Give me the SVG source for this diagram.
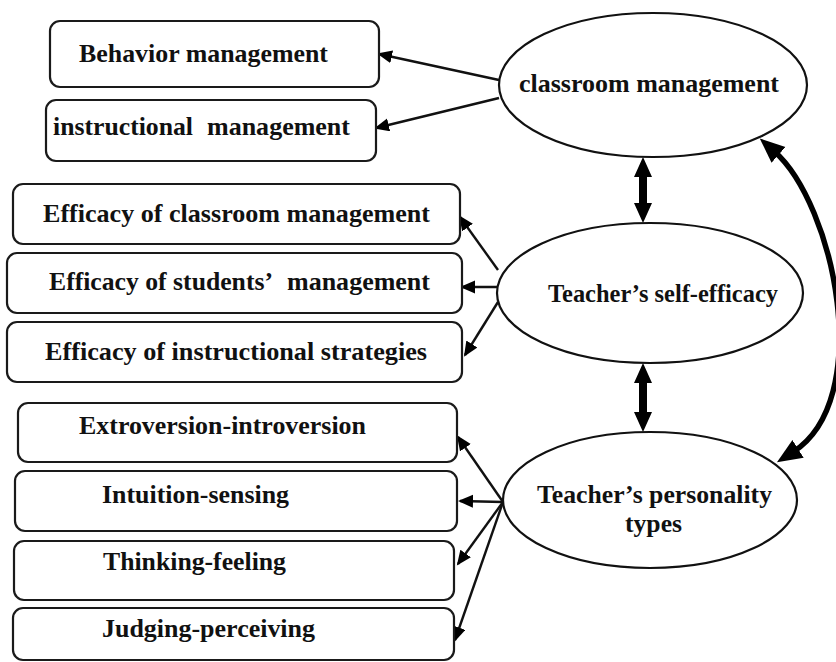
<svg xmlns="http://www.w3.org/2000/svg" width="836" height="662" viewBox="0 0 836 662">
<style>
.box{fill:#fff;stroke:#1a1a1a;stroke-width:2.2}
.ell{fill:#fff;stroke:#111;stroke-width:2.2}
.t{font-family:"Liberation Serif","Times New Roman",serif;font-weight:bold;fill:#111}
.ln{fill:none;stroke:#111;stroke-width:2.4}
.thick{fill:none;stroke:#000;stroke-width:5.5}
.dbl{fill:#000;stroke:none}
</style>
<defs>
<marker id="ah" markerUnits="userSpaceOnUse" markerWidth="16" markerHeight="14" refX="13" refY="6.5" orient="auto">
<path d="M0,0 L15,6.5 L0,13 z" fill="#000"/>
</marker>
<marker id="big" markerUnits="userSpaceOnUse" markerWidth="26" markerHeight="22" refX="6" refY="10.5" orient="auto-start-reverse">
<path d="M0,0 L25,10.5 L0,21 z" fill="#000"/>
</marker>
</defs>
<rect width="836" height="662" fill="#fff"/>

<g id="connectors">
<line class="ln" x1="499" y1="80" x2="379" y2="54" marker-end="url(#ah)"/>
<line class="ln" x1="499" y1="98" x2="376" y2="128" marker-end="url(#ah)"/>
<line class="ln" x1="498" y1="270" x2="460" y2="217" marker-end="url(#ah)"/>
<line class="ln" x1="497" y1="287" x2="462" y2="287" marker-end="url(#ah)"/>
<line class="ln" x1="498" y1="302" x2="465" y2="355" marker-end="url(#ah)"/>
<line class="ln" x1="503" y1="502" x2="458" y2="437" marker-end="url(#ah)"/>
<line class="ln" x1="503" y1="502" x2="460" y2="501" marker-end="url(#ah)"/>
<line class="ln" x1="503" y1="502" x2="458" y2="564" marker-end="url(#ah)"/>
<line class="ln" x1="503" y1="502" x2="455" y2="640" marker-end="url(#ah)"/>
<path class="dbl" d="M643,157 L652,177 L647,177 L647,203 L652,203 L643,223 L634,203 L639,203 L639,177 L634,177 Z"/>
<path class="dbl" d="M643,363 L652,383 L647,383 L647,412 L652,412 L643,432 L634,412 L639,412 L639,383 L634,383 Z"/>
<path class="thick" d="M774,151 C835,205 875,400 793,452" marker-start="url(#big)" marker-end="url(#big)"/>
</g>

<g id="n-behavior">
<rect class="box" x="50" y="21" width="329" height="66" rx="10"/>
<text class="t" x="79" y="62" font-size="25.5" textLength="249" lengthAdjust="spacingAndGlyphs">Behavior management</text>
</g>
<g id="n-instructional">
<rect class="box" x="46" y="100" width="330" height="61" rx="10"/>
<text class="t" y="135" font-size="25.5"><tspan x="53" textLength="140" lengthAdjust="spacingAndGlyphs">instructional</tspan><tspan x="207" textLength="143" lengthAdjust="spacingAndGlyphs">management</tspan></text>
</g>
<g id="n-eff-classroom">
<rect class="box" x="13" y="184" width="447" height="60" rx="10"/>
<text class="t" x="43" y="222" font-size="25.5" textLength="387" lengthAdjust="spacingAndGlyphs">Efficacy of classroom management</text>
</g>
<g id="n-eff-students">
<rect class="box" x="7" y="253" width="455" height="60" rx="10"/>
<text class="t" y="290" font-size="25.5"><tspan x="49" textLength="224" lengthAdjust="spacingAndGlyphs">Efficacy of students’</tspan><tspan x="287" textLength="143" lengthAdjust="spacingAndGlyphs">management</tspan></text>
</g>
<g id="n-eff-instr">
<rect class="box" x="7" y="322" width="455" height="60" rx="10"/>
<text class="t" x="45" y="360" font-size="25.5" textLength="382" lengthAdjust="spacingAndGlyphs">Efficacy of instructional strategies</text>
</g>
<g id="n-extro">
<rect class="box" x="18" y="403" width="439" height="59" rx="10"/>
<text class="t" x="79" y="434" font-size="25.5" textLength="287" lengthAdjust="spacingAndGlyphs">Extroversion-introversion</text>
</g>
<g id="n-intuition">
<rect class="box" x="15" y="471" width="442" height="60" rx="10"/>
<text class="t" x="102" y="503" font-size="25.5" textLength="187" lengthAdjust="spacingAndGlyphs">Intuition-sensing</text>
</g>
<g id="n-thinking">
<rect class="box" x="14" y="541" width="440" height="59" rx="10"/>
<text class="t" x="103" y="570" font-size="25.5" textLength="183" lengthAdjust="spacingAndGlyphs">Thinking-feeling</text>
</g>
<g id="n-judging">
<rect class="box" x="13" y="608" width="441" height="52" rx="10"/>
<text class="t" x="102" y="637" font-size="25.5" textLength="213" lengthAdjust="spacingAndGlyphs">Judging-perceiving</text>
</g>

<g id="n-classroom">
<ellipse class="ell" cx="653" cy="85" rx="154" ry="72"/>
<text class="t" x="519" y="92" font-size="24.5" textLength="260" lengthAdjust="spacingAndGlyphs">classroom management</text>
</g>
<g id="n-selfeff">
<ellipse class="ell" cx="650" cy="293" rx="153" ry="70"/>
<text class="t" x="548" y="302" font-size="24.5" textLength="230" lengthAdjust="spacingAndGlyphs">Teacher’s self-efficacy</text>
</g>
<g id="n-personality">
<ellipse class="ell" cx="650" cy="500" rx="147" ry="68"/>
<text class="t" x="537" y="503" font-size="24.5" textLength="235" lengthAdjust="spacingAndGlyphs">Teacher’s personality</text>
<text class="t" x="625" y="532" font-size="24.5" textLength="57" lengthAdjust="spacingAndGlyphs">types</text>
</g>
</svg>
